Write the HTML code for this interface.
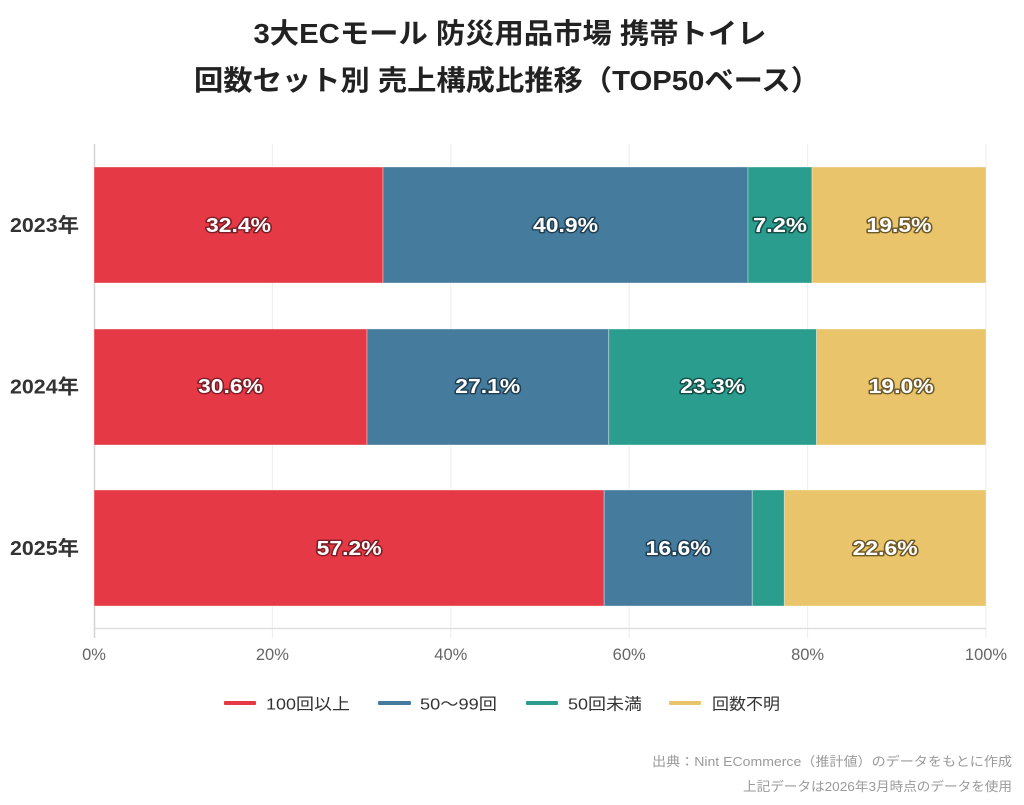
<!DOCTYPE html>
<html><head><meta charset="utf-8"><style>
html,body{margin:0;padding:0;background:#fff;}
svg{display:block;}
text{font-family:"Liberation Sans","Noto Sans CJK JP",sans-serif;}
.lbl{font-size:20px;font-weight:bold;fill:#fff;stroke-width:2.8px;paint-order:stroke;stroke-linejoin:round;text-anchor:middle;}
.tick{font-size:16.5px;fill:#666;text-anchor:middle;}
.ylab{font-size:20px;font-weight:bold;fill:#333;text-anchor:end;}
.leg{font-size:16px;fill:#333;}
.src{font-size:13px;fill:#9a9a9a;text-anchor:end;}
</style></head><body>
<svg width="1024" height="805" viewBox="0 0 1024 805" xmlns="http://www.w3.org/2000/svg">
<rect width="1024" height="805" fill="#fff"/>
<!-- title -->
<text x="510" y="43" text-anchor="middle" font-size="28" font-weight="bold" fill="#222" textLength="513" lengthAdjust="spacingAndGlyphs">3大ECモール 防災用品市場 携帯トイレ</text>
<text x="507" y="90" text-anchor="middle" font-size="28" font-weight="bold" fill="#222" textLength="626" lengthAdjust="spacingAndGlyphs">回数セット別 売上構成比推移（TOP50ベース）</text>
<!-- grid -->
<g stroke="#ececec" stroke-width="1">
<line x1="272.4" y1="144" x2="272.4" y2="638"/>
<line x1="450.8" y1="144" x2="450.8" y2="638"/>
<line x1="629.2" y1="144" x2="629.2" y2="638"/>
<line x1="807.6" y1="144" x2="807.6" y2="638"/>
<line x1="986" y1="144" x2="986" y2="638"/>
</g>
<line x1="94" y1="628.5" x2="986" y2="628.5" stroke="#e0e0e0" stroke-width="1.5"/>
<line x1="94.5" y1="144" x2="94.5" y2="638" stroke="#d4d4d4" stroke-width="1.5"/>
<!-- bars -->
<g stroke="rgba(255,255,255,0.35)" stroke-width="1">
<rect x="94" y="167" width="289" height="116" fill="#E63946"/>
<rect x="383" y="167" width="365" height="116" fill="#457B9D"/>
<rect x="748" y="167" width="64" height="116" fill="#2A9D8F"/>
<rect x="812" y="167" width="174" height="116" fill="#E9C46A"/>

<rect x="94" y="329" width="273" height="116" fill="#E63946"/>
<rect x="367" y="329" width="241.7" height="116" fill="#457B9D"/>
<rect x="608.7" y="329" width="207.8" height="116" fill="#2A9D8F"/>
<rect x="816.5" y="329" width="169.5" height="116" fill="#E9C46A"/>

<rect x="94" y="490" width="510.2" height="116" fill="#E63946"/>
<rect x="604.2" y="490" width="148.1" height="116" fill="#457B9D"/>
<rect x="752.3" y="490" width="32.1" height="116" fill="#2A9D8F"/>
<rect x="784.4" y="490" width="201.6" height="116" fill="#E9C46A"/>
</g>
<!-- bar labels -->
<text class="lbl" x="238.5" y="232" stroke="#7d1d26" textLength="65" lengthAdjust="spacingAndGlyphs">32.4%</text>
<text class="lbl" x="565.5" y="232" stroke="#203f52" textLength="65" lengthAdjust="spacingAndGlyphs">40.9%</text>
<text class="lbl" x="780" y="232" stroke="#154e47" textLength="54" lengthAdjust="spacingAndGlyphs">7.2%</text>
<text class="lbl" x="899" y="232" stroke="#6e5a28" textLength="65" lengthAdjust="spacingAndGlyphs">19.5%</text>

<text class="lbl" x="230.5" y="393" stroke="#7d1d26" textLength="65" lengthAdjust="spacingAndGlyphs">30.6%</text>
<text class="lbl" x="487.8" y="393" stroke="#203f52" textLength="65" lengthAdjust="spacingAndGlyphs">27.1%</text>
<text class="lbl" x="712.6" y="393" stroke="#154e47" textLength="65" lengthAdjust="spacingAndGlyphs">23.3%</text>
<text class="lbl" x="901.2" y="393" stroke="#6e5a28" textLength="65" lengthAdjust="spacingAndGlyphs">19.0%</text>

<text class="lbl" x="349.1" y="555" stroke="#7d1d26" textLength="65" lengthAdjust="spacingAndGlyphs">57.2%</text>
<text class="lbl" x="678.2" y="555" stroke="#203f52" textLength="65" lengthAdjust="spacingAndGlyphs">16.6%</text>
<text class="lbl" x="885.2" y="555" stroke="#6e5a28" textLength="65" lengthAdjust="spacingAndGlyphs">22.6%</text>
<!-- y labels -->
<text class="ylab" x="79" y="232" textLength="69" lengthAdjust="spacingAndGlyphs">2023年</text>
<text class="ylab" x="79" y="393.5" textLength="69" lengthAdjust="spacingAndGlyphs">2024年</text>
<text class="ylab" x="79" y="555" textLength="69" lengthAdjust="spacingAndGlyphs">2025年</text>
<!-- x ticks -->
<text class="tick" x="94" y="660">0%</text>
<text class="tick" x="272.4" y="660">20%</text>
<text class="tick" x="450.8" y="660">40%</text>
<text class="tick" x="629.2" y="660">60%</text>
<text class="tick" x="807.6" y="660">80%</text>
<text class="tick" x="986" y="660">100%</text>
<!-- legend -->
<rect x="224" y="701" width="32" height="4" rx="1" fill="#E63946"/>
<text class="leg" x="266" y="709.5" textLength="84" lengthAdjust="spacingAndGlyphs">100回以上</text>
<rect x="378" y="701" width="33" height="4" rx="1" fill="#457B9D"/>
<text class="leg" x="420" y="709.5" textLength="77" lengthAdjust="spacingAndGlyphs">50～99回</text>
<rect x="526" y="701" width="32" height="4" rx="1" fill="#2A9D8F"/>
<text class="leg" x="568" y="709.5" textLength="74" lengthAdjust="spacingAndGlyphs">50回未満</text>
<rect x="669" y="701" width="32" height="4" rx="1" fill="#E9C46A"/>
<text class="leg" x="712" y="709.5" textLength="68" lengthAdjust="spacingAndGlyphs">回数不明</text>
<!-- source -->
<text class="src" x="1012" y="766" textLength="360" lengthAdjust="spacingAndGlyphs">出典：Nint ECommerce（推計値）のデータをもとに作成</text>
<text class="src" x="1012" y="791" textLength="269" lengthAdjust="spacingAndGlyphs">上記データは2026年3月時点のデータを使用</text>
</svg>
</body></html>
